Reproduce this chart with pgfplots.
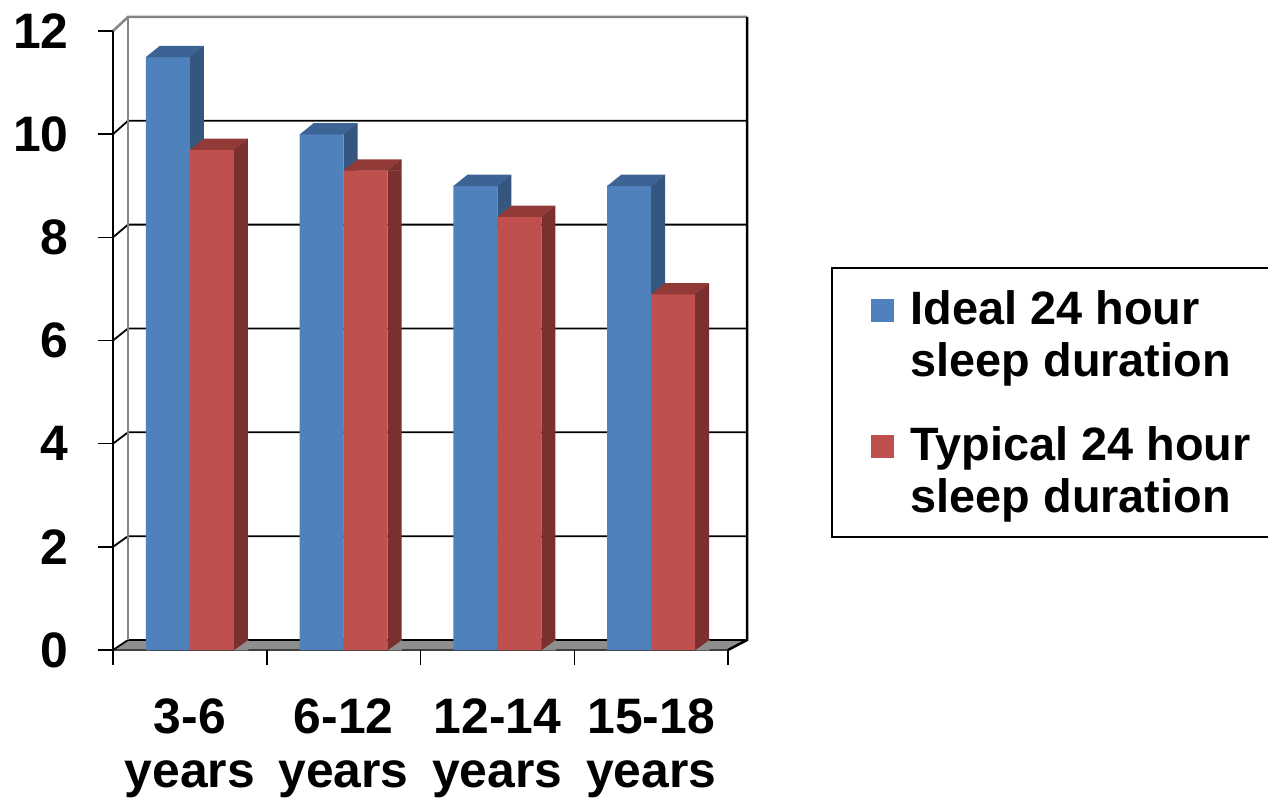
\documentclass[border=0pt]{standalone}
\usepackage{fontspec}
\setmainfont{Liberation Sans}
\usepackage{pgfplots}
\pgfplotsset{compat=1.18}
\usepackage{pgfplotstable}

\definecolor{blueF}{HTML}{4F81BD}
\definecolor{blueT}{HTML}{3B6394}
\definecolor{blueS}{HTML}{34567F}
\definecolor{redF}{HTML}{C0504D}
\definecolor{redT}{HTML}{913A38}
\definecolor{redS}{HTML}{7A302E}
\definecolor{floorG}{HTML}{8E8E8E}
\definecolor{wallG}{HTML}{858585}

\pgfdeclareplotmark{topblue}{%
  \pgfsetfillcolor{blueT}%
  \pgfpathmoveto{\pgfpoint{-44bp}{-0.3bp}}\pgfpathlineto{\pgfpoint{0bp}{-0.3bp}}%
  \pgfpathlineto{\pgfpoint{14bp}{11bp}}\pgfpathlineto{\pgfpoint{-30bp}{11bp}}\pgfpathclose\pgfusepathqfill
  \pgfsetfillcolor{blueS}%
  \pgfpathmoveto{\pgfpoint{-0.3bp}{-0.3bp}}\pgfpathlineto{\pgfpoint{14bp}{-0.3bp}}%
  \pgfpathlineto{\pgfpoint{14bp}{11bp}}\pgfpathclose\pgfusepathqfill}
\pgfdeclareplotmark{topred}{%
  \pgfsetfillcolor{redT}%
  \pgfpathmoveto{\pgfpoint{0bp}{-0.3bp}}\pgfpathlineto{\pgfpoint{44bp}{-0.3bp}}%
  \pgfpathlineto{\pgfpoint{58bp}{11bp}}\pgfpathlineto{\pgfpoint{14bp}{11bp}}\pgfpathclose\pgfusepathqfill
  \pgfsetfillcolor{redS}%
  \pgfpathmoveto{\pgfpoint{43.7bp}{-0.3bp}}\pgfpathlineto{\pgfpoint{58bp}{-0.3bp}}%
  \pgfpathlineto{\pgfpoint{58bp}{11bp}}\pgfpathclose\pgfusepathqfill}
\pgfdeclareplotmark{floorred}{%
  \pgfsetfillcolor{floorG}%
  \pgfpathmoveto{\pgfpoint{44bp}{-0.5bp}}\pgfpathlineto{\pgfpoint{58.5bp}{-0.5bp}}%
  \pgfpathlineto{\pgfpoint{58.5bp}{10bp}}\pgfpathclose\pgfusepathqfill}

\pgfplotstableread{
x ideal typical base
1 11.5 9.7 0
2 10.0 9.3 0
3 9.0 8.4 0
4 9.0 6.9 0
}\sleep

\begin{document}
\begin{tikzpicture}
\useasboundingbox (0,0) rectangle (1268bp,801bp);
% floor
\fill[floorG] (113bp,151bp) -- (728bp,151bp) -- (747bp,161bp) -- (128bp,161bp) -- cycle;
\draw[black!75, line width=1.5bp] (113bp,151bp) -- (728bp,151bp);
% back wall and left wall gridlines
\foreach \v in {0,2,4,6,8,10} {
  \draw[black, line width=1.8bp] ({113bp},{(151+51.583*\v)*1bp}) -- ({128bp},{(161+51.92*\v)*1bp}) -- ({747bp},{(161+51.92*\v)*1bp});
}
\draw[wallG, line width=2.5bp] (113bp,770bp) -- (128bp,784bp) -- (747bp,784bp);
\draw[wallG, line width=2.5bp] (128bp,161bp) -- (128bp,784bp);
\draw[black, line width=2.5bp] (747bp,784bp) -- (747bp,161bp) -- (728bp,151bp);
\begin{axis}[
  at={(113bp,151bp)}, anchor=south west,
  scale only axis, width=615bp, height=619bp,
  xmin=0.5, xmax=4.5, ymin=0, ymax=12,
  clip=false,
  axis x line*=bottom, axis y line*=left,
  x axis line style={draw=none},
  y axis line style={black, line width=1.5bp, -},
  ytick={0,2,...,12},
  xtick={0.5,1.5,2.5,3.5,4.5},
  x tick label as interval,
  xticklabels={{3-6\\years},{6-12\\years},{12-14\\years},{15-18\\years}},
  xticklabel style={align=center, yshift=-30bp},
  yticklabel style={xshift=-26bp},
  tick align=outside,
  major tick length=15bp,
  tick style={black, line width=1.5bp},
  tick label style={font=\fontsize{50}{54}\selectfont\bfseries},
  /pgf/number format/assume math mode=true,
  legend style={at={(rel axis cs:1.1675,0.6187)}, anchor=north west,
    draw=black, line width=1.5bp,
    font=\fontsize{47}{52}\selectfont\bfseries,
    cells={align=left, anchor=west},
    inner xsep=16bp, inner ysep=21bp, column sep=15bp, row sep=45bp},
]
\addplot[ybar, bar width=14bp, bar shift=7bp, fill=blueS, draw=none, forget plot] table[x=x,y=ideal]{\sleep};
\addplot[ybar, bar width=44bp, bar shift=-22bp, fill=blueF, draw=none,
  legend image code/.code={\path (-23bp,24bp);\fill[blueF] (0bp,12.5bp) rectangle (23bp,35.5bp);}] table[x=x,y=ideal]{\sleep};
\addlegendentry{Ideal 24 hour\\sleep duration}
\addplot[only marks, mark=topblue, forget plot] table[x=x,y=ideal]{\sleep};
\addplot[ybar, bar width=14bp, bar shift=51bp, fill=redS, draw=none, forget plot] table[x=x,y=typical]{\sleep};
\addplot[only marks, mark=floorred, forget plot] table[x=x,y=base]{\sleep};
\addplot[ybar, bar width=44bp, bar shift=22bp, fill=redF, draw=none,
  legend image code/.code={\path (-23bp,24bp);\fill[redF] (0bp,12.5bp) rectangle (23bp,35.5bp);}] table[x=x,y=typical]{\sleep};
\addlegendentry{Typical 24 hour\\sleep duration}
\addplot[only marks, mark=topred, forget plot] table[x=x,y=typical]{\sleep};
\end{axis}
\end{tikzpicture}
\end{document}
